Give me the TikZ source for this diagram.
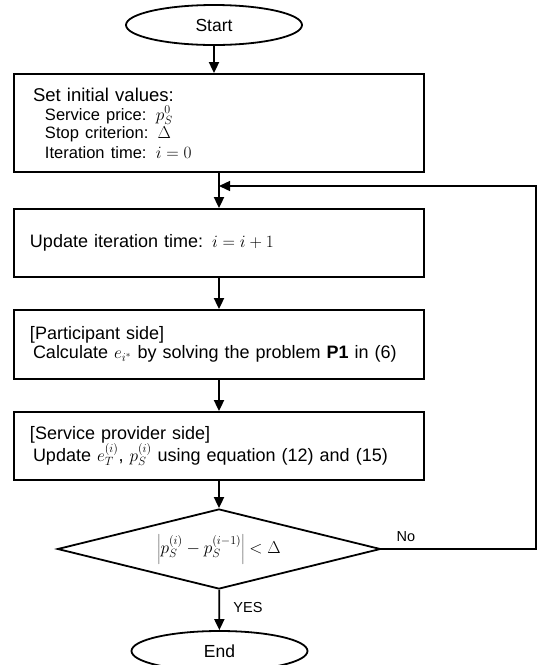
\documentclass[tikz,border=0pt]{standalone}
\usepackage{fontspec}
\setmainfont[WordSpace=0.85]{Liberation Sans}
\usetikzlibrary{shapes.geometric,arrows.meta}

\tikzset{
  proc/.style={draw,line width=1.8pt,minimum width=410pt,inner xsep=16pt,
    text width=378pt,align=left,font=\fontsize{18}{19}\selectfont},
  term/.style={draw,ellipse,line width=1.8pt,minimum width=176pt,
    minimum height=40pt,inner sep=0pt,font=\fontsize{17.5}{20}\selectfont},
  decide/.style={draw,diamond,aspect=4,line width=1.8pt,minimum width=323pt,
    minimum height=80pt,inner sep=0pt,font=\fontsize{18}{20}\selectfont},
  lbl/.style={inner sep=0pt,font=\fontsize{14.5}{16}\selectfont},
  flow/.style={line width=1.8pt,-{Triangle[length=11pt,width=10pt]}},
  back/.style={line width=1.3pt,-{Triangle[length=11pt,width=10pt]}},
}

\begin{document}
\begin{tikzpicture}[x=1pt,y=-1pt]
\useasboundingbox (0,0) rectangle (539,665);

% terminals
\node[term] (start) at (214,25) {Start};
\node[term] (stop) at (219.5,651) {End};

% process boxes
\node[proc,minimum height=98pt,inner xsep=19pt,text width=372pt,
  font=\fontsize{18.5}{20}\selectfont] (init) at (219,123)
  {Set initial values:\par\vspace{1pt}\fontsize{16.5}{18}\selectfont
   \hspace*{12pt}Service price: $p_S^0$\\
   \hspace*{12pt}Stop criterion: $\Delta$\\
   \hspace*{12pt}Iteration time: $i=0$};
\node[proc,minimum height=68pt] (iter) at (219,243)
  {Update iteration time: $i=i+1$};
\node[proc,minimum height=69pt] (solve) at (219,344.5)
  {[Participant side]\\
   \hspace*{3pt}Calculate $e_{i^*}$ by solving the problem \textbf{P1} in (6)};
\node[proc,minimum height=68pt] (update) at (219,446)
  {[Service provider side]\\
   \hspace*{3pt}Update $e_T^{(i)}$, $p_S^{(i)}$ using equation (12) and (15)};

% stop test
\node[decide] (check) at (219,549)
  {$\left|p_S^{(i)}-p_S^{(i-1)}\right|<\Delta$};
\node[lbl] (nolbl) at (406,537) {No};
\node[lbl] (yeslbl) at (248,608) {YES};

% main flow
\draw[flow] (start.south) -- (start.south |- init.north);
\draw[flow] (init) -- (iter);
\draw[flow] (iter) -- (solve);
\draw[flow] (solve) -- (update);
\draw[flow] (update) -- (check);
\draw[flow] (check) -- (stop);

% loop back
\coordinate (loopx) at (536,549);
\coordinate (join) at (219,186);
\draw[back] (check.east) -- (loopx) |- (join);
\end{tikzpicture}
\end{document}
